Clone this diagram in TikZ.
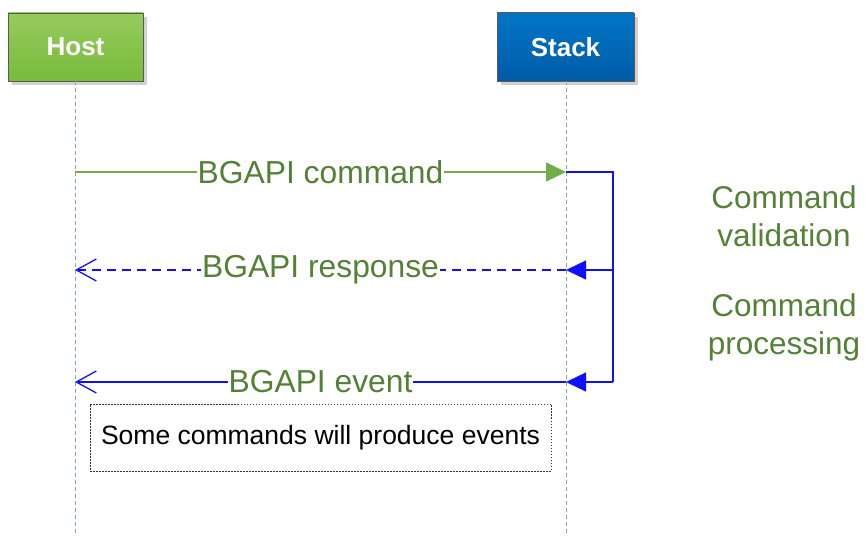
\documentclass[tikz,border=0pt]{standalone}
\usepackage{fontspec}
\setmainfont{Liberation Sans}
\usetikzlibrary{arrows.meta}
\definecolor{hostTop}{HTML}{96CB5E}
\definecolor{hostBot}{HTML}{78BB3C}
\definecolor{stackTop}{HTML}{0276C6}
\definecolor{stackBot}{HTML}{005BA6}
\definecolor{cmdGreen}{HTML}{70AD47}
\definecolor{lblGreen}{HTML}{538135}
\definecolor{msgBlue}{HTML}{1010FF}
\definecolor{lifeGray}{HTML}{8EA2C0}
\tikzset{
  actor/.style={minimum width=135pt, minimum height=68pt, inner sep=0pt,
    draw=gray!70!black, line width=0.6pt, text=white,
    font=\fontsize{26}{30}\selectfont\bfseries},
  shade/.style={fill=black!18, draw=none},
  lifeline/.style={draw=lifeGray, line width=1pt, dash pattern=on 4pt off 3pt},
  msglabel/.style={fill=white, inner sep=1pt, text=lblGreen,
    font=\fontsize{31.8}{36}\selectfont},
  sidelabel/.style={text=lblGreen, align=center,
    font=\fontsize{31.5}{38}\selectfont},
  filledtip/.style={-{Triangle[length=20pt,width=19pt]}},
  opentip/.style={-{Straight Barb[length=20pt,width=22pt,line width=1.3pt]}},
}
\begin{document}
\begin{tikzpicture}[x=1pt,y=-1pt]
\useasboundingbox (0,0) rectangle (865,540);

% drop shadows behind the participant boxes
\fill[shade] (12,17) rectangle (147,85);
\fill[shade] (501,17) rectangle (638,85);

% participants
\node[actor, top color=hostTop, bottom color=hostBot] (host) at (75.5,47) {Host};
\node[actor, minimum width=137pt, top color=stackTop, bottom color=stackBot] (stack) at (565.5,47) {Stack};

% lifelines
\coordinate (hostend) at (75,535);
\coordinate (stackend) at (566,535);
\draw[lifeline] (host.south -| hostend) -- (hostend);
\draw[lifeline] (stack.south -| stackend) -- (stackend);

% message anchor points
\coordinate (h1) at (75,172);  \coordinate (s1) at (566,172);
\coordinate (h2) at (75,270);  \coordinate (s2) at (566,270);
\coordinate (h3) at (75,382);  \coordinate (s3) at (566,382);
\coordinate (r1) at (613,172);
\coordinate (r2) at (613,270);
\coordinate (r3) at (613,382);

% command from host to stack
\draw[cmdGreen, line width=1.3pt, filledtip] (h1) -- node[msglabel] (cmd) {BGAPI command} (s1);

% internal processing bracket
\draw[msgBlue, line width=1.3pt] (s1) -- (r1) -- (r3);
\draw[msgBlue, line width=1.3pt, fill=msgBlue, filledtip] (r2) -- (s2);
\draw[msgBlue, line width=1.3pt, fill=msgBlue, filledtip] (r3) -- (s3);

% response and event back to host
\draw[msgBlue, line width=1.3pt, dash pattern=on 9pt off 6pt, opentip] (s2) -- node[msglabel] (rsp) {BGAPI response} (h2);
\draw[msgBlue, line width=1.3pt, opentip] (s3) -- node[msglabel] (evt) {BGAPI event} (h3);

% stage descriptions
\node[sidelabel] (valid) at (784,216) {Command\\validation};
\node[sidelabel] (proc) at (784,327) {Command\\processing};

% note
\node[draw=black!80, line width=1pt, dash pattern=on 1.5pt off 1.5pt,
  minimum width=461pt, minimum height=67pt,
  font=\fontsize{26.5}{30}\selectfont] (note) at (320.5,437.5)
  {Some commands will produce events};
\end{tikzpicture}
\end{document}
